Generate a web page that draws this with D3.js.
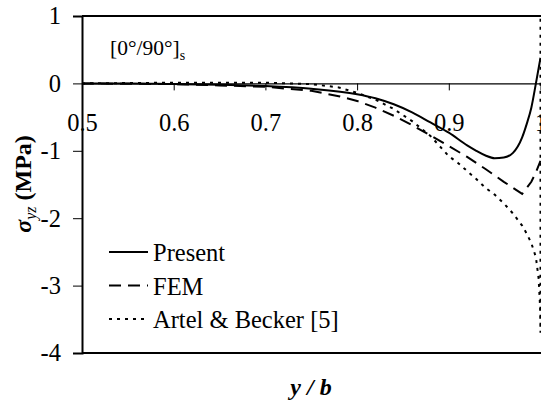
<!DOCTYPE html>
<meta charset="utf-8">
<script src="https://d3js.org/d3.v7.min.js"></script>
<style>
  body { margin: 0; background: #fff; }
  svg text { font-family: "Liberation Serif", "Times New Roman", serif; fill: #000; }
</style>
<body>
<div id="chart"></div>
<script>
  // data
  var xTicks = [0.5, 0.6, 0.7, 0.8, 0.9, 1];
  var yTicks = [1, 0, -1, -2, -3, -4];

  var presentX = [0.5, 0.55, 0.6, 0.65, 0.7, 0.75, 0.8, 0.82, 0.84, 0.86, 0.88, 0.9, 0.92, 0.93, 0.94, 0.95, 0.96, 0.97, 0.98, 0.985, 0.99, 0.995, 1.0];
  var presentY = [0, 0, -0.01, -0.02, -0.04, -0.08, -0.16, -0.22, -0.31, -0.43, -0.58, -0.73, -0.92, -1.0, -1.07, -1.11, -1.1, -1.03, -0.8, -0.6, -0.36, 0, 0.38];

  var femX = [0.5, 0.6, 0.65, 0.7, 0.75, 0.78, 0.8, 0.82, 0.84, 0.86, 0.88, 0.9, 0.92, 0.94, 0.96, 0.97, 0.98, 0.99, 0.995, 1.0];
  var femY = [0, -0.01, -0.03, -0.05, -0.11, -0.19, -0.26, -0.36, -0.48, -0.62, -0.77, -0.93, -1.09, -1.27, -1.46, -1.55, -1.64, -1.46, -1.32, -1.15];

  var artelX = [0.5, 0.6, 0.7, 0.75, 0.78, 0.8, 0.82, 0.84, 0.86, 0.88, 0.9, 0.91, 0.92, 0.93, 0.94, 0.95, 0.96, 0.97, 0.98, 0.985, 0.99, 0.995, 0.998, 0.9995, 1.0, 1.0];
  var artelY = [0, 0.01, 0.01, -0.01, -0.06, -0.14, -0.24, -0.38, -0.56, -0.78, -1.08, -1.18, -1.3, -1.42, -1.55, -1.65, -1.78, -1.93, -2.11, -2.23, -2.37, -2.58, -2.9, -3.3, -3.7, 1.0];

  var seriesNames = ["Present", "FEM", "Artel & Becker [5]"];

  var serif = "'Liberation Serif', 'Times New Roman', serif";
  var width = 541, height = 405;
  var svg = d3.select("#chart").append("svg")
    .attr("width", width).attr("height", height);

  var x = d3.scaleLinear().domain([0.5, 1]).range([82, 540.5]);
  var y = d3.scaleLinear().domain([-4, 1]).range([353, 16]);

  // plot frame: top and bottom borders
  svg.append("line").attr("x1", 82).attr("x2", 541).attr("y1", y(1)).attr("y2", y(1))
    .attr("stroke", "#000").attr("stroke-width", 2);
  svg.append("line").attr("x1", 82).attr("x2", 541).attr("y1", y(-4)).attr("y2", y(-4))
    .attr("stroke", "#000").attr("stroke-width", 2);

  // y axis
  var yAxis = svg.append("g").attr("transform", "translate(82,0)")
    .call(d3.axisLeft(y).tickValues(yTicks).tickSize(9).tickPadding(12)
      .tickFormat(function(d) { return d < 0 ? "-" + (-d) : String(d); }));
  yAxis.attr("font-family", serif);
  yAxis.select(".domain").attr("stroke-width", 2);
  yAxis.selectAll("text").style("font-size", "24.5px").style("font-family", serif);

  // x axis at y = 0
  var xAxis = svg.append("g").attr("transform", "translate(0," + y(0) + ")")
    .call(d3.axisBottom(x).tickValues(xTicks).tickSize(7).tickSizeOuter(0)
      .tickFormat(function(d) { return d === 1 ? "1" : d3.format(".1f")(d); }));
  xAxis.attr("font-family", serif);
  xAxis.select(".domain").attr("stroke-width", 1.2);
  xAxis.selectAll("text").style("font-size", "24.5px").style("font-family", serif)
    .attr("y", 0).attr("dy", 0).attr("transform", "translate(0,48)");

  // curves
  svg.append("clipPath").attr("id", "clip").append("rect")
    .attr("x", 82).attr("y", 15).attr("width", 460).attr("height", 339);

  var line = d3.line().x(function(d) { return x(d[0]); }).y(function(d) { return y(d[1]); });
  var smooth = d3.line().curve(d3.curveMonotoneX)
    .x(function(d) { return x(d[0]); }).y(function(d) { return y(d[1]); });

  var dashes = ["none", "12,7", "3,5"];

  svg.append("path").datum(d3.zip(presentX, presentY)).attr("d", smooth)
    .attr("fill", "none").attr("stroke", "#000").attr("stroke-width", 2)
    .attr("clip-path", "url(#clip)");
  svg.append("path").datum(d3.zip(femX, femY)).attr("d", line)
    .attr("fill", "none").attr("stroke", "#000").attr("stroke-width", 2)
    .attr("stroke-dasharray", dashes[1]).attr("clip-path", "url(#clip)");
  svg.append("path").datum(d3.zip(artelX, artelY)).attr("d", line)
    .attr("fill", "none").attr("stroke", "#000").attr("stroke-width", 2)
    .attr("stroke-dasharray", dashes[2]).attr("clip-path", "url(#clip)");

  // legend
  var legend = svg.append("g").selectAll("g").data(seriesNames).enter().append("g")
    .attr("transform", function(d, i) { return "translate(109," + (252 + i * 33.5) + ")"; });
  legend.append("line").attr("x1", 0).attr("x2", 39).attr("y1", 0).attr("y2", 0)
    .attr("stroke", "#000").attr("stroke-width", 2)
    .attr("stroke-dasharray", function(d, i) { return dashes[i]; });
  legend.append("text").attr("x", 44).attr("y", 9).style("font-size", "24.5px")
    .style("font-family", serif)
    .text(function(d) { return d; });

  // annotation
  var ann = svg.append("text").attr("x", 110).attr("y", 55).style("font-size", "21.5px")
    .style("font-family", serif);
  ann.append("tspan").text("[0°/90°]");
  ann.append("tspan").attr("dy", 5).style("font-size", "14px").text("s");

  // y title
  var yt = svg.append("text").attr("transform", "translate(31,184) rotate(-90)")
    .attr("text-anchor", "middle").style("font-size", "24px").style("font-weight", "bold")
    .style("font-family", serif);
  yt.append("tspan").style("font-style", "italic").text("σ");
  yt.append("tspan").attr("dy", 5).style("font-style", "italic").style("font-size", "16px")
    .style("font-weight", "normal").text("yz");
  yt.append("tspan").attr("dy", -5).text(" (MPa)");

  // x title
  svg.append("text").attr("x", 311).attr("y", 395).attr("text-anchor", "middle")
    .style("font-size", "24px").style("font-weight", "bold").style("font-style", "italic")
    .style("font-family", serif)
    .text("y  / b");
</script>
</body>
